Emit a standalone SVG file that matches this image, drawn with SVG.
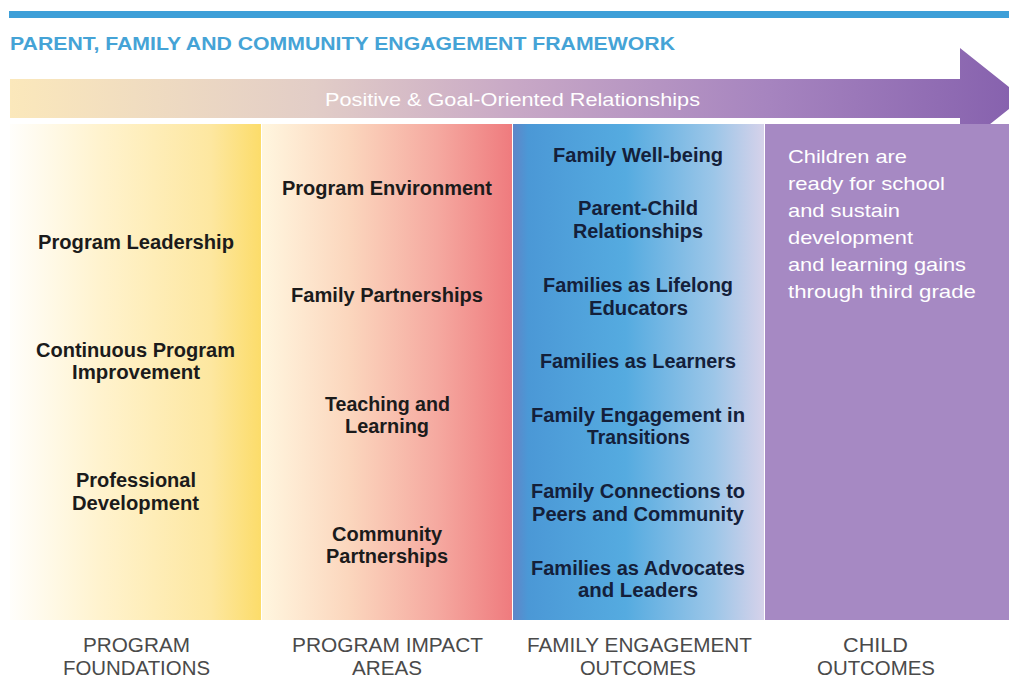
<svg xmlns="http://www.w3.org/2000/svg" width="1009" height="679" viewBox="0 0 1009 679">
<defs>
<linearGradient id="gBand" x1="10" y1="0" x2="1023" y2="0" gradientUnits="userSpaceOnUse">
<stop offset="0" stop-color="#fbe8bb"/>
<stop offset="0.3" stop-color="#e2cdc7"/>
<stop offset="0.5" stop-color="#c8a8c6"/>
<stop offset="0.75" stop-color="#a684bf"/>
<stop offset="1" stop-color="#8560ad"/>
</linearGradient>
<linearGradient id="gC1" x1="0" y1="0" x2="1" y2="0">
<stop offset="0" stop-color="#fffefb"/>
<stop offset="0.35" stop-color="#fff3cf"/>
<stop offset="0.8" stop-color="#fde7a0"/>
<stop offset="1" stop-color="#fcdc6a"/>
</linearGradient>
<linearGradient id="gC2" x1="0" y1="0" x2="1" y2="0">
<stop offset="0" stop-color="#fff6df"/>
<stop offset="0.35" stop-color="#fbd6bd"/>
<stop offset="0.7" stop-color="#f5a9a0"/>
<stop offset="1" stop-color="#ef7b7e"/>
</linearGradient>
<linearGradient id="gC3" x1="0" y1="0" x2="1" y2="0">
<stop offset="0" stop-color="#5f86c8"/>
<stop offset="0.06" stop-color="#4b98d6"/>
<stop offset="0.45" stop-color="#55abe0"/>
<stop offset="0.8" stop-color="#9cc6e8"/>
<stop offset="1" stop-color="#d6d2ea"/>
</linearGradient>
<style>
.t{font-family:"Liberation Sans",Arial,sans-serif;font-weight:bold;font-size:20px;fill:#1b1b1b}
.n{fill:#14203a}
.w{font-family:"Liberation Sans",Arial,sans-serif;font-size:19px;fill:#ffffff}
.b{font-family:"Liberation Sans",Arial,sans-serif;font-size:20.5px;fill:#4a4a4a}
</style>
</defs>
<rect width="1009" height="679" fill="#ffffff"/>

<g id="header">
<rect x="9" y="11" width="1000" height="7" fill="#3d9fd8"/>
<text x="10" y="50" font-family="Liberation Sans, Arial, sans-serif" font-weight="bold" font-size="18" fill="#45a3d6" textLength="665" lengthAdjust="spacingAndGlyphs">PARENT, FAMILY AND COMMUNITY ENGAGEMENT FRAMEWORK</text>
</g>

<g id="connectors">
<g id="relationships-arrow">
<path d="M10 79 H960 V48 L1023 98 L960 148 V118 H10 Z" fill="url(#gBand)"/>
<text class="w" x="325" y="106" textLength="375" lengthAdjust="spacingAndGlyphs">Positive &amp; Goal-Oriented Relationships</text>
</g>
</g>

<g id="col-program-foundations">
<rect x="10" y="124" width="251" height="496" fill="url(#gC1)"/>
<g id="program-leadership"><text class="t" x="38" y="249" textLength="196" lengthAdjust="spacingAndGlyphs">Program Leadership</text></g>
<g id="continuous-program-improvement">
<text class="t" x="36" y="357" textLength="199" lengthAdjust="spacingAndGlyphs">Continuous Program</text>
<text class="t" x="72" y="379" textLength="128" lengthAdjust="spacingAndGlyphs">Improvement</text>
</g>
<g id="professional-development">
<text class="t" x="76" y="487" textLength="120" lengthAdjust="spacingAndGlyphs">Professional</text>
<text class="t" x="72" y="510" textLength="127" lengthAdjust="spacingAndGlyphs">Development</text>
</g>
</g>

<g id="col-program-impact-areas">
<rect x="262" y="124" width="250" height="496" fill="url(#gC2)"/>
<g id="program-environment"><text class="t" x="282" y="195" textLength="210" lengthAdjust="spacingAndGlyphs">Program Environment</text></g>
<g id="family-partnerships"><text class="t" x="291" y="302" textLength="192" lengthAdjust="spacingAndGlyphs">Family Partnerships</text></g>
<g id="teaching-and-learning">
<text class="t" x="325" y="411" textLength="125" lengthAdjust="spacingAndGlyphs">Teaching and</text>
<text class="t" x="345" y="433" textLength="84" lengthAdjust="spacingAndGlyphs">Learning</text>
</g>
<g id="community-partnerships">
<text class="t" x="332" y="541" textLength="110" lengthAdjust="spacingAndGlyphs">Community</text>
<text class="t" x="326" y="563" textLength="122" lengthAdjust="spacingAndGlyphs">Partnerships</text>
</g>
</g>

<g id="col-family-engagement-outcomes">
<rect x="513" y="124" width="251" height="496" fill="url(#gC3)"/>
<g id="family-well-being"><text class="t n" x="553" y="162" textLength="170" lengthAdjust="spacingAndGlyphs">Family Well-being</text></g>
<g id="parent-child-relationships">
<text class="t n" x="578" y="215" textLength="120" lengthAdjust="spacingAndGlyphs">Parent-Child</text>
<text class="t n" x="573" y="238" textLength="130" lengthAdjust="spacingAndGlyphs">Relationships</text>
</g>
<g id="families-lifelong-educators">
<text class="t n" x="543" y="292" textLength="190" lengthAdjust="spacingAndGlyphs">Families as Lifelong</text>
<text class="t n" x="589" y="315" textLength="99" lengthAdjust="spacingAndGlyphs">Educators</text>
</g>
<g id="families-as-learners"><text class="t n" x="540" y="368" textLength="196" lengthAdjust="spacingAndGlyphs">Families as Learners</text></g>
<g id="family-engagement-transitions">
<text class="t n" x="531" y="422" textLength="214" lengthAdjust="spacingAndGlyphs">Family Engagement in</text>
<text class="t n" x="587" y="444" textLength="103" lengthAdjust="spacingAndGlyphs">Transitions</text>
</g>
<g id="family-connections">
<text class="t n" x="531" y="498" textLength="214" lengthAdjust="spacingAndGlyphs">Family Connections to</text>
<text class="t n" x="532" y="521" textLength="212" lengthAdjust="spacingAndGlyphs">Peers and Community</text>
</g>
<g id="families-advocates-leaders">
<text class="t n" x="531" y="575" textLength="214" lengthAdjust="spacingAndGlyphs">Families as Advocates</text>
<text class="t n" x="578" y="597" textLength="120" lengthAdjust="spacingAndGlyphs">and Leaders</text>
</g>
</g>

<g id="col-child-outcomes">
<rect x="765" y="124" width="244" height="496" fill="#a689c3"/>
<g id="child-outcome-text">
<text class="w" x="788" y="163" textLength="119" lengthAdjust="spacingAndGlyphs">Children are</text>
<text class="w" x="788" y="190" textLength="157" lengthAdjust="spacingAndGlyphs">ready for school</text>
<text class="w" x="788" y="217" textLength="112" lengthAdjust="spacingAndGlyphs">and sustain</text>
<text class="w" x="788" y="244" textLength="125" lengthAdjust="spacingAndGlyphs">development</text>
<text class="w" x="788" y="271" textLength="178" lengthAdjust="spacingAndGlyphs">and learning gains</text>
<text class="w" x="788" y="298" textLength="188" lengthAdjust="spacingAndGlyphs">through third grade</text>
</g>
</g>

<g id="column-labels">
<g id="label-program-foundations">
<text class="b" x="83" y="652" textLength="107" lengthAdjust="spacingAndGlyphs">PROGRAM</text>
<text class="b" x="63" y="675" textLength="147" lengthAdjust="spacingAndGlyphs">FOUNDATIONS</text>
</g>
<g id="label-program-impact-areas">
<text class="b" x="292" y="652" textLength="191" lengthAdjust="spacingAndGlyphs">PROGRAM IMPACT</text>
<text class="b" x="352" y="675" textLength="70" lengthAdjust="spacingAndGlyphs">AREAS</text>
</g>
<g id="label-family-engagement-outcomes">
<text class="b" x="527" y="652" textLength="225" lengthAdjust="spacingAndGlyphs">FAMILY ENGAGEMENT</text>
<text class="b" x="580" y="675" textLength="116" lengthAdjust="spacingAndGlyphs">OUTCOMES</text>
</g>
<g id="label-child-outcomes">
<text class="b" x="843" y="652" textLength="65" lengthAdjust="spacingAndGlyphs">CHILD</text>
<text class="b" x="817" y="675" textLength="118" lengthAdjust="spacingAndGlyphs">OUTCOMES</text>
</g>
</g>
</svg>
